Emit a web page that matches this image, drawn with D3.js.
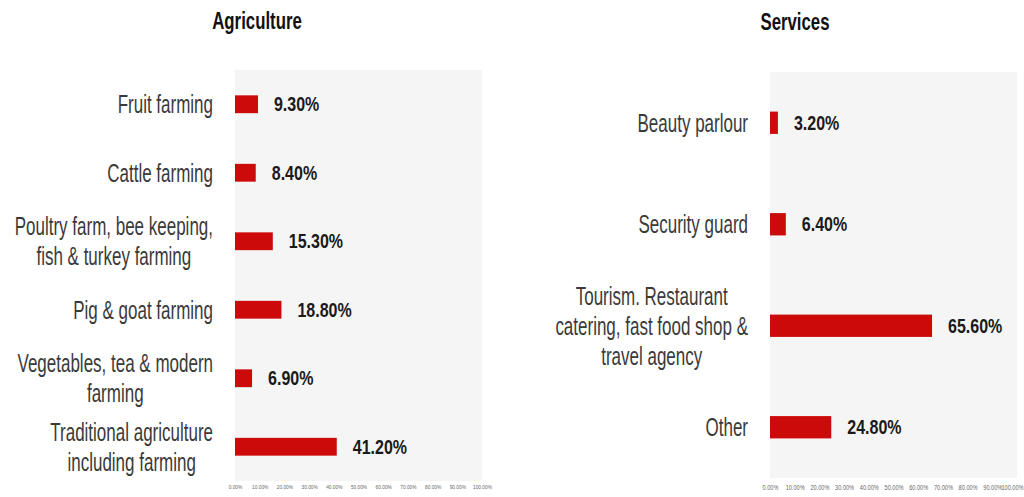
<!DOCTYPE html>
<html>
<head>
<meta charset="utf-8">
<script src="https://cdn.jsdelivr.net/npm/d3@7"></script>
<style>
  html, body { margin: 0; padding: 0; background: #ffffff; }
  svg { display: block; }
  text { font-family: "Liberation Sans Narrow", "Liberation Sans", "DejaVu Sans Condensed", sans-serif; }
</style>
</head>
<body>
<svg id="chart" width="1024" height="497"></svg>
<script>
// Agriculture panel
const agriCategories = [
  ["Fruit farming"],
  ["Cattle farming"],
  ["Poultry farm, bee keeping,", "fish & turkey farming"],
  ["Pig & goat farming"],
  ["Vegetables, tea & modern", "farming"],
  ["Traditional agriculture", "including farming"]
];
const agriValues = [9.3, 8.4, 15.3, 18.8, 6.9, 41.2];

// Services panel
const serviceCategories = [
  ["Beauty parlour"],
  ["Security guard"],
  ["Tourism. Restaurant", "catering, fast food shop &", "travel agency"],
  ["Other"]
];
const serviceValues = [3.2, 6.4, 65.6, 24.8];

// Shared percentage axis ticks
const tickValues = [0, 10, 20, 30, 40, 50, 60, 70, 80, 90, 100];
const tickFormat = v => v.toFixed(2) + "%";
const valueFormat = v => v.toFixed(2) + "%";

const svg = d3.select("#chart");
const W = 1024;

const BAR = "#cc0a0a";
const SX = 0.68;          // horizontal squeeze for the condensed look
const TICK_SX = 0.8;      // squeeze for the small axis labels

function squeezedText(g, x, y, str, opts) {
  return g.append("text")
    .attr("transform", `translate(${x},${y}) scale(${opts.sx || SX},1)`)
    .attr("text-anchor", opts.anchor || "start")
    .attr("font-size", opts.size)
    .attr("font-weight", opts.weight || "normal")
    .attr("fill", opts.fill || "#333")
    .text(str);
}

function panel(cfg) {
  const g = svg.append("g");
  const x = d3.scaleLinear().domain([0, 100]).range(cfg.xRange);
  const keys = cfg.categories.map((c, i) => i);
  const y = d3.scaleBand().domain(keys).range(cfg.yRange)
    .paddingInner(cfg.pad).paddingOuter(cfg.pad / 2);

  // plot background
  g.append("rect")
    .attr("x", cfg.xRange[0]).attr("y", cfg.yRange[0])
    .attr("width", cfg.xRange[1] - cfg.xRange[0])
    .attr("height", cfg.yRange[1] - cfg.yRange[0])
    .attr("fill", "#f5f5f5");

  // title
  squeezedText(g, cfg.titleX, cfg.titleY, cfg.title,
    { size: 24, weight: "bold", anchor: "middle", fill: "#111", sx: 0.7 });

  // bars
  g.selectAll("rect.bar").data(cfg.values).join("rect")
    .attr("class", "bar")
    .attr("x", x(0))
    .attr("y", (d, i) => y(i))
    .attr("width", d => x(d) - x(0))
    .attr("height", y.bandwidth())
    .attr("fill", BAR);

  // value labels
  cfg.values.forEach((v, i) => {
    squeezedText(g, x(v) + 16, y(i) + y.bandwidth() / 2 + 7, valueFormat(v),
      { size: 20, weight: "bold", fill: "#1a1a1a", sx: 0.8 });
  });

  // category labels: block right-aligned, lines centred within the block
  const lh = 30, cap = 18;
  cfg.categories.forEach((lines, i) => {
    const cy = y(i) + y.bandwidth() / 2;
    const n = lines.length;
    const texts = lines.map((ln, k) =>
      squeezedText(g, 0, 0, ln, { size: 25, fill: "#3a3a3a", anchor: "middle" }));
    const w = d3.max(texts, t => t.node().getComputedTextLength()) * SX;
    texts.forEach((t, k) => {
      const by = cy + cap / 2 + (k - (n - 1) / 2) * lh;
      t.attr("transform", `translate(${cfg.labelRight - w / 2},${by}) scale(${SX},1)`);
    });
  });

  // x axis
  const axis = d3.axisBottom(x).tickValues(tickValues).tickFormat(tickFormat)
    .tickSize(0).tickPadding(0);
  const ag = g.append("g").attr("transform", `translate(0,${cfg.axisY})`).call(axis);
  ag.select(".domain").remove();
  ag.selectAll("text")
    .attr("font-size", cfg.tickSize)
    .attr("fill", "#666")
    .attr("transform", `scale(${TICK_SX},1)`)
    .attr("font-family", "'Liberation Sans Narrow', 'Liberation Sans', sans-serif");

  // keep a tick label that would run past the page edge inside it
  ag.selectAll(".tick").each(function () {
    const t = d3.select(this).select("text");
    const half = t.node().getComputedTextLength() * TICK_SX / 2;
    const tx = x(d3.select(this).datum());
    if (tx + half > W - 1) {
      t.attr("text-anchor", "end").attr("x", ((W - 1) - tx) / TICK_SX);
    }
  });
}

panel({
  title: "Agriculture", titleX: 257, titleY: 29,
  categories: agriCategories, values: agriValues,
  xRange: [235, 482], yRange: [70, 481], pad: 0.74,
  labelRight: 213, axisY: 485, tickSize: 6
});

panel({
  title: "Services", titleX: 795, titleY: 30,
  categories: serviceCategories, values: serviceValues,
  xRange: [770, 1017], yRange: [72, 478], pad: 0.78,
  labelRight: 748, axisY: 485, tickSize: 7
});
</script>
</body>
</html>
